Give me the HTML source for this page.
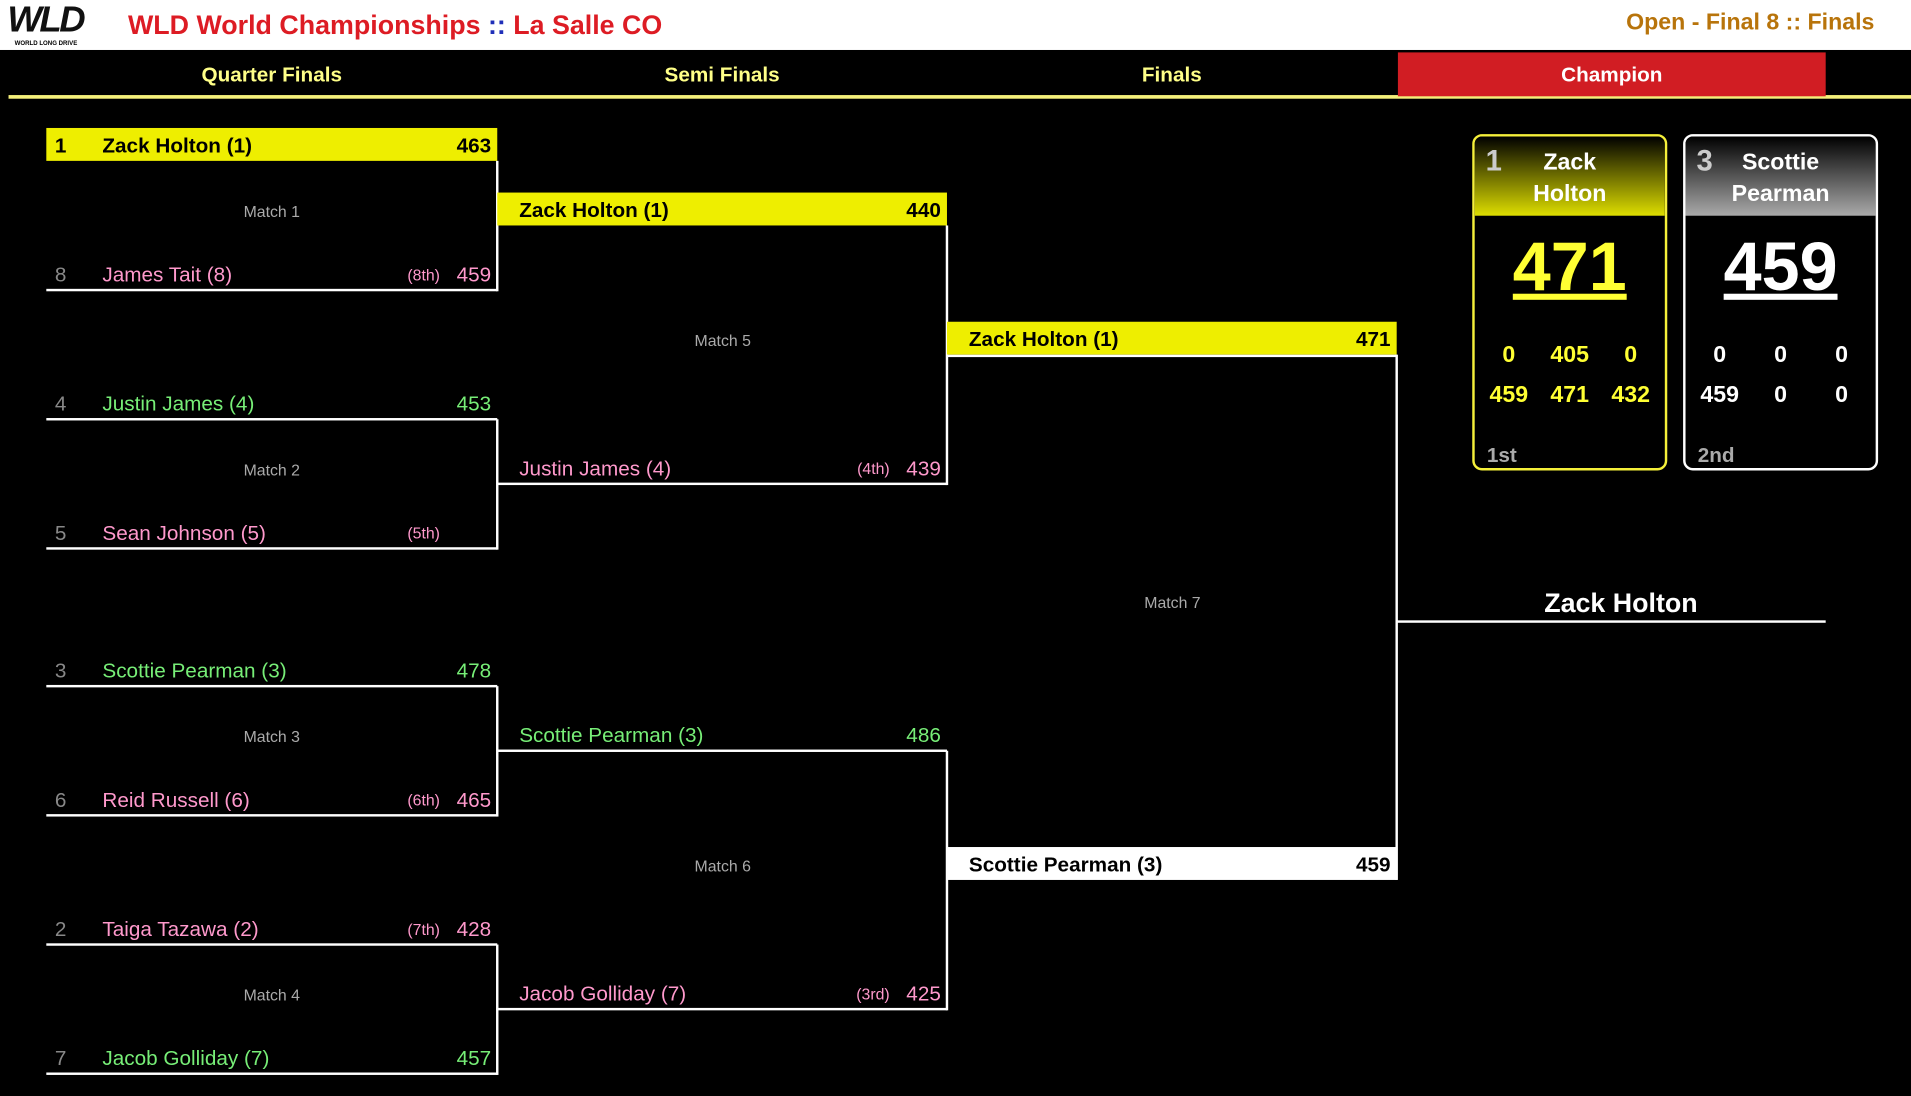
<!DOCTYPE html>
<html><head><meta charset="utf-8"><style>
html,body{margin:0;padding:0;background:#000;overflow:hidden}
#w{position:absolute;left:0;top:0;width:1568px;height:899px;transform:scale(1.21875);transform-origin:0 0;background:#000;font-family:"Liberation Sans",sans-serif}
.a{position:absolute}
.r{position:absolute;width:370px;height:26px;border-bottom:2px solid #fff;font-size:17px;line-height:30px}
.r .s{position:absolute;left:7px;color:#888}
.r .n{position:absolute;left:46px}
.r .p{position:absolute;right:5px}
.r .o{position:absolute;right:47px;font-size:13px}
.y{background:#eeee00;color:#000;font-weight:bold;border-bottom:none;height:27px}
.y .s{color:#000}
.g{color:#77ee77}.k{color:#ff99cc}
.v{position:absolute;width:2px;background:#fff}
.m{position:absolute;width:370px;text-align:center;color:#aaa;font-size:13px}
.tab{position:absolute;top:43px;height:36px;line-height:38px;text-align:center;color:#ffff88;font-weight:bold;font-size:17px}
.card{position:absolute;top:110px;width:156px;height:272px;border:2px solid;border-radius:8px;overflow:hidden;background:#000}
.card .h{height:65px;position:relative;color:#fff;font-weight:bold;font-size:19px;text-align:center;line-height:26px;padding-top:9px;box-sizing:border-box}
.card .h .sd{position:absolute;left:9px;top:8px;color:#ccc;font-size:24px}
.card .big{text-align:center;font-size:56px;font-weight:bold;text-decoration:underline;margin-top:6px;line-height:72px}
.card table{position:absolute;top:163px;left:3px;width:150px;table-layout:fixed;font-weight:bold;font-size:19px;border-spacing:0}
.card td{text-align:center;height:33px;padding:0;width:50px}
.card .pl{position:absolute;left:10px;bottom:0;color:#aaa;font-weight:bold;font-size:17px}
</style></head><body><div id="w">
<div class="a" style="left:0;top:0;width:1568px;height:41px;background:#fff"></div>
<div class="a" style="left:6px;top:0;font-size:30px;font-weight:bold;font-style:italic;color:#111;letter-spacing:-2px;line-height:34px">WLD</div>
<div class="a" style="left:12px;top:33px;font-size:5px;font-weight:bold;color:#000">WORLD LONG DRIVE</div>
<div class="a" style="left:105px;top:8px;font-size:22px;font-weight:bold;color:#dd1c24">WLD World Championships <span style="color:#1f2fb8">::</span> La Salle CO</div>
<div class="a" style="right:30px;top:8px;font-size:19px;font-weight:bold;color:#b8740b">Open - Final 8 :: Finals</div>
<div class="a" style="left:7px;top:78px;width:1561px;height:3px;background:#f5f07a"></div>
<div class="tab" style="left:38px;width:370px">Quarter Finals</div>
<div class="tab" style="left:408px;width:369px">Semi Finals</div>
<div class="tab" style="left:777px;width:369px">Finals</div>
<div class="tab" style="left:1147px;width:351px;background:#d11d23;color:#fff">Champion</div>

<div class="r y" style="left:38px;top:105px"><span class="s">1</span><span class="n">Zack Holton (1)</span><span class="p">463</span></div>
<div class="m" style="left:38px;top:166px">Match 1</div>
<div class="r k" style="left:38px;top:211px"><span class="s">8</span><span class="n">James Tait (8)</span><span class="o">(8th)</span><span class="p">459</span></div>
<div class="r g" style="left:38px;top:317px"><span class="s">4</span><span class="n">Justin James (4)</span><span class="p">453</span></div>
<div class="m" style="left:38px;top:378px">Match 2</div>
<div class="r k" style="left:38px;top:423px"><span class="s">5</span><span class="n">Sean Johnson (5)</span><span class="o">(5th)</span></div>
<div class="r g" style="left:38px;top:536px"><span class="s">3</span><span class="n">Scottie Pearman (3)</span><span class="p">478</span></div>
<div class="m" style="left:38px;top:597px">Match 3</div>
<div class="r k" style="left:38px;top:642px"><span class="s">6</span><span class="n">Reid Russell (6)</span><span class="o">(6th)</span><span class="p">465</span></div>
<div class="r k" style="left:38px;top:748px"><span class="s">2</span><span class="n">Taiga Tazawa (2)</span><span class="o">(7th)</span><span class="p">428</span></div>
<div class="m" style="left:38px;top:809px">Match 4</div>
<div class="r g" style="left:38px;top:854px"><span class="s">7</span><span class="n">Jacob Golliday (7)</span><span class="p">457</span></div>
<div class="v" style="left:407px;top:132px;height:107px"></div>
<div class="v" style="left:407px;top:344px;height:107px"></div>
<div class="v" style="left:407px;top:563px;height:107px"></div>
<div class="v" style="left:407px;top:775px;height:107px"></div>

<div class="r y" style="left:408px;top:158px;width:369px"><span class="n" style="left:18px">Zack Holton (1)</span><span class="p">440</span></div>
<div class="m" style="left:408px;top:272px">Match 5</div>
<div class="r k" style="left:408px;top:370px;width:369px"><span class="n" style="left:18px">Justin James (4)</span><span class="o">(4th)</span><span class="p">439</span></div>
<div class="r g" style="left:408px;top:589px;width:369px"><span class="n" style="left:18px">Scottie Pearman (3)</span><span class="p">486</span></div>
<div class="m" style="left:408px;top:703px">Match 6</div>
<div class="r k" style="left:408px;top:801px;width:369px"><span class="n" style="left:18px">Jacob Golliday (7)</span><span class="o">(3rd)</span><span class="p">425</span></div>
<div class="v" style="left:776px;top:185px;height:213px"></div>
<div class="v" style="left:776px;top:616px;height:213px"></div>

<div class="r y" style="left:777px;top:264px;width:369px"><span class="n" style="left:18px">Zack Holton (1)</span><span class="p">471</span></div>
<div class="r y" style="left:777px;top:695px;width:369px;background:#fff"><span class="n" style="left:18px">Scottie Pearman (3)</span><span class="p">459</span></div>
<div class="a" style="left:777px;top:291px;width:369px;height:2px;background:#fff"></div>
<div class="m" style="left:777px;top:487px">Match 7</div>
<div class="v" style="left:1145px;top:291px;height:431px"></div>
<div class="a" style="left:1146px;top:509px;width:352px;height:2px;background:#fff"></div>
<div class="a" style="left:1146px;top:482px;width:368px;text-align:center;color:#fff;font-weight:bold;font-size:22px">Zack Holton</div>

<div class="card" style="left:1208px;border-color:#f5f03a;color:#ffff33">
<div class="h" style="background:linear-gradient(#000,#dede00)"><span class="sd">1</span>Zack<br>Holton</div>
<div class="big">471</div>
<table><tr><td>0</td><td>405</td><td>0</td></tr><tr><td>459</td><td>471</td><td>432</td></tr></table>
<div class="pl">1st</div></div>
<div class="card" style="left:1381px;border-color:#fff;color:#fff">
<div class="h" style="background:linear-gradient(#000,#aaa)"><span class="sd">3</span>Scottie<br>Pearman</div>
<div class="big">459</div>
<table><tr><td>0</td><td>0</td><td>0</td></tr><tr><td>459</td><td>0</td><td>0</td></tr></table>
<div class="pl">2nd</div></div>
</div></body></html>
